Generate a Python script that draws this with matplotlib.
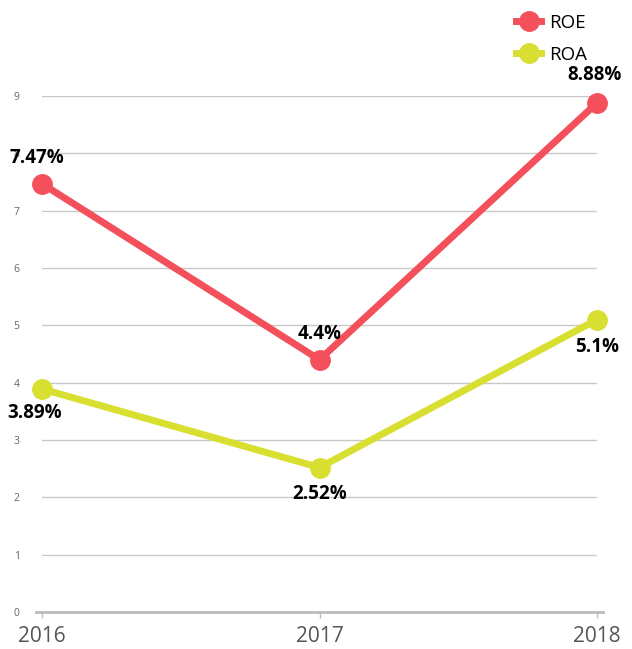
import matplotlib.pyplot as plt

plt.rcParams['font.family'] = ['Open Sans', 'DejaVu Sans']

years = ['2016', '2017', '2018']
roe = [7.47, 4.4, 8.88]
roa = [3.89, 2.52, 5.1]
roe_labels = ['7.47%', '4.4%', '8.88%']
roa_labels = ['3.89%', '2.52%', '5.1%']

red = '#F4505C'
yel = '#D8DF30'

fig = plt.figure(figsize=(6.32, 6.49), dpi=100)
ax = fig.add_axes([42/632, 37/649, 555/632, 516/649])

x = range(len(years))
ax.plot(x, roe, color=red, lw=5, marker='o', ms=14, label='ROE', clip_on=False, zorder=3)
ax.plot(x, roa, color=yel, lw=5, marker='o', ms=14, label='ROA', clip_on=False, zorder=3)

# data labels
offs_roe = [(-5, 26), (0, 26), (-2, 28)]
offs_roa = [(-7, -24), (0, -26), (0, -27)]
for i in x:
    ax.annotate(roe_labels[i], (i, roe[i]), xytext=offs_roe[i], textcoords='offset pixels',
                ha='center', va='center', fontsize=13.5, fontweight='bold', color='black', zorder=5)
    ax.annotate(roa_labels[i], (i, roa[i]), xytext=offs_roa[i], textcoords='offset pixels',
                ha='center', va='center', fontsize=13.5, fontweight='bold', color='black', zorder=5)

ax.set_xlim(0, 2)
ax.set_ylim(0, 9)
ax.set_yticks(range(10))
ax.set_xticks(list(x))
ax.set_xticklabels(years, fontsize=15, color='#555555')
ax.tick_params(axis='y', length=0, labelsize=7.5, labelcolor='#666666', pad=16)
ax.tick_params(axis='x', length=4, color='#bbbbbb', width=1, pad=6)
ax.grid(axis='y', color='#c8c8c8', lw=1)
ax.set_axisbelow(True)
for s in ['top', 'right', 'left']:
    ax.spines[s].set_visible(False)
ax.spines['bottom'].set_color('#bbbbbb')
ax.spines['bottom'].set_linewidth(2)
ax.spines['bottom'].set_bounds(-0.02, 2.02)

ax.legend(loc='upper right', bbox_to_anchor=(604/632, 1.005), bbox_transform=fig.transFigure,
          frameon=False, fontsize=13.5, handlelength=1.3, handletextpad=0.45, labelspacing=0.75)

fig.savefig('out.png', dpi=100)
